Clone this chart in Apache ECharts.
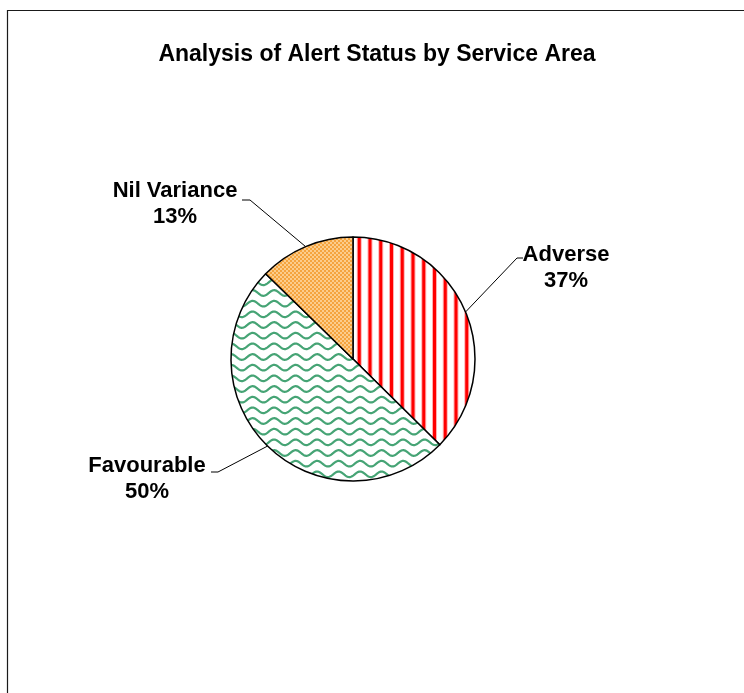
<!DOCTYPE html>
<html>
<head>
<meta charset="utf-8">
<script src="https://cdn.jsdelivr.net/npm/echarts@6/dist/echarts.min.js"></script>
<style>
html,body{margin:0;padding:0;background:#fff;}
#chart{width:744px;height:693px;}
</style>
</head>
<body>
<div id="chart"></div>
<script>
const titleText = 'Analysis of Alert Status by Service Area';
const categories = ['Adverse', 'Favourable', 'Nil Variance'];
const values = [37.4, 49.9, 12.7];

// label placement (layout only)
const labelCenters = [[566, 268], [147, 479], [175, 204]];
const lineElbows = [[517, 258], [218, 472], [250, 200]];
const lineEnds = [[523, 258], [211, 472], [242, 200]];

function stripePattern() {
  const c = document.createElement('canvas');
  c.width = 43; c.height = 4;
  const g = c.getContext('2d');
  g.fillStyle = '#ffffff'; g.fillRect(0, 0, 43, 4);
  for (let k = 0; k < 4; k++) {
    const x = 3 + k * 10.75;
    g.fillStyle = '#FFB0B0'; g.fillRect(x - 1, 0, 5, 4);
    g.fillStyle = '#FF0000'; g.fillRect(x, 0, 3, 4);
  }
  return c;
}
function wavePattern() {
  const c = document.createElement('canvas');
  c.width = 43; c.height = 32;
  const g = c.getContext('2d');
  g.fillStyle = '#ffffff'; g.fillRect(0, 0, 43, 32);
  g.strokeStyle = '#46A475'; g.lineWidth = 2.2;
  for (let r = -1; r <= 3; r++) {
    const y0 = 5 + r * 32 / 3;
    g.beginPath();
    for (let x = -2; x <= 45; x += 0.5) {
      const y = y0 + 2.8 * Math.sin(x / 43 * 4 * Math.PI);
      if (x === -2) g.moveTo(x, y); else g.lineTo(x, y);
    }
    g.stroke();
  }
  return c;
}
function dotPattern() {
  const c = document.createElement('canvas');
  c.width = 4; c.height = 4;
  const g = c.getContext('2d');
  g.fillStyle = '#F5A43E'; g.fillRect(0, 0, 4, 4);
  g.fillStyle = '#FCCD8C'; g.fillRect(0, 0, 2, 2); g.fillRect(2, 2, 2, 2);
  return c;
}
const patterns = [stripePattern(), wavePattern(), dotPattern()];

const chart = echarts.init(document.getElementById('chart'), null, {renderer: 'canvas'});
chart.setOption({
  backgroundColor: '#ffffff',
  animation: false,
  title: {
    text: titleText,
    left: 372,
    textAlign: 'center',
    top: 38,
    textStyle: {fontFamily: 'Liberation Sans, Arial, sans-serif', fontWeight: 'bold', fontSize: 23, color: '#000'}
  },
  graphic: [{
    type: 'rect',
    shape: {x: 7.5, y: 10.5, width: 900, height: 900},
    style: {fill: 'none', stroke: '#1a1a1a', lineWidth: 1.2},
    silent: true
  }],
  series: [{
    type: 'pie',
    center: [353, 359],
    radius: 122,
    startAngle: 90,
    clockwise: true,
    percentPrecision: 0,
    data: categories.map((n, i) => ({
      name: n,
      value: values[i],
      itemStyle: {color: {image: patterns[i], repeat: 'repeat'}}
    })),
    itemStyle: {borderColor: '#000', borderWidth: 1.5},
    label: {
      show: true,
      position: 'outside',
      formatter: '{b}\n{d}%',
      fontFamily: 'Liberation Sans, Arial, sans-serif',
      fontWeight: 'bold',
      fontSize: 22,
      lineHeight: 26,
      color: '#000',
      align: 'center'
    },
    labelLine: {show: true, length: 10, length2: 10, lineStyle: {color: '#000', width: 1}},
    labelLayout: function (params) {
      const i = params.dataIndex;
      const p0 = params.labelLinePoints ? params.labelLinePoints[0] : lineElbows[i];
      return {
        x: labelCenters[i][0],
        y: labelCenters[i][1],
        align: 'center',
        verticalAlign: 'middle',
        labelLinePoints: [p0, lineElbows[i], lineEnds[i]]
      };
    },
    emphasis: {disabled: true}
  }]
});
</script>
</body>
</html>
